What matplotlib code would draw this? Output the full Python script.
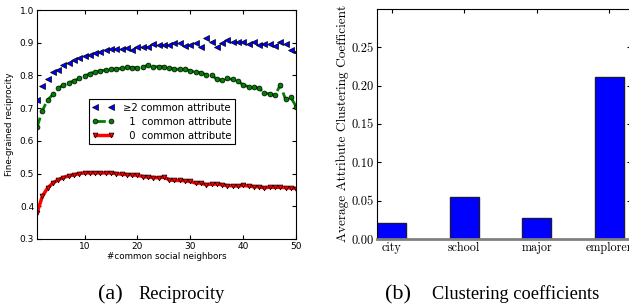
import numpy as np
import matplotlib
matplotlib.use("Agg")
import matplotlib.pyplot as plt

# common social neighbors 1..50
neighbors = list(range(1, 51))

recip_ge2 = [0.725, 0.768, 0.790, 0.810, 0.818, 0.831, 0.839, 0.847, 0.855, 0.860,
             0.862, 0.870, 0.873, 0.878, 0.880, 0.880, 0.880, 0.883, 0.879, 0.888,
             0.888, 0.886, 0.896, 0.893, 0.894, 0.894, 0.898, 0.900, 0.891, 0.893,
             0.900, 0.888, 0.915, 0.903, 0.888, 0.898, 0.910, 0.903, 0.902, 0.901,
             0.896, 0.901, 0.894, 0.896, 0.895, 0.891, 0.903, 0.895, 0.878, 0.873]

recip_1 = [0.641, 0.692, 0.725, 0.742, 0.761, 0.771, 0.778, 0.784, 0.791, 0.798,
           0.806, 0.812, 0.814, 0.817, 0.819, 0.820, 0.822, 0.827, 0.824, 0.824,
           0.825, 0.832, 0.827, 0.827, 0.827, 0.824, 0.819, 0.819, 0.820, 0.814,
           0.810, 0.809, 0.802, 0.802, 0.788, 0.786, 0.791, 0.788, 0.783, 0.771,
           0.766, 0.764, 0.761, 0.746, 0.744, 0.739, 0.771, 0.727, 0.733, 0.705]

recip_0 = [0.379, 0.430, 0.456, 0.471, 0.481, 0.488, 0.493, 0.496, 0.500, 0.502,
           0.502, 0.502, 0.502, 0.502, 0.502, 0.500, 0.498, 0.497, 0.496, 0.495,
           0.491, 0.489, 0.488, 0.487, 0.489, 0.481, 0.479, 0.479, 0.478, 0.476,
           0.471, 0.471, 0.466, 0.468, 0.468, 0.466, 0.463, 0.463, 0.462, 0.464,
           0.462, 0.460, 0.460, 0.456, 0.459, 0.458, 0.458, 0.457, 0.456, 0.454]

attributes = ["city", "school", "major", "emplorer"]
clustering = [0.0205, 0.0546, 0.027, 0.2116]

fig = plt.figure(figsize=(6.29, 3.06), dpi=100)

# (a) reciprocity
ax1 = fig.add_axes([0.0588, 0.219, 0.412, 0.748])
ax1.plot(neighbors, recip_ge2, linestyle="none", marker="<", ms=4,
         mfc="blue", mec="black", mew=0.5, label="\u22652 common attribute")
ax1.plot(neighbors, recip_1, linestyle="--", color="green", lw=2, marker="o", ms=3.5,
         mfc="green", mec="black", mew=0.5, label="  1  common attribute")
ax1.plot(neighbors, recip_0, linestyle="-", color="red", lw=2.5, marker="v", ms=3.5,
         mfc="red", mec="black", mew=0.5, label="  0  common attribute")
ax1.set_xlim(1, 50)
ax1.set_ylim(0.3, 1.0)
ax1.set_xticks([10, 20, 30, 40, 50])
ax1.set_yticks(np.arange(0.3, 1.01, 0.1))
ax1.tick_params(direction="in", top=True, right=True, labelsize=6.5, length=3, pad=2)
ax1.set_xlabel("#common social neighbors", fontsize=6.3, labelpad=1)
ax1.set_ylabel("Fine-grained reciprocity", fontsize=6.3, labelpad=4)
leg = ax1.legend(loc="upper left", bbox_to_anchor=(0.2, 0.611), fontsize=7.2,
                 numpoints=2, handlelength=2.2, fancybox=False, framealpha=1,
                 borderaxespad=0, borderpad=0.35, labelspacing=0.4,
                 handletextpad=0.9)
leg.get_frame().set_edgecolor("black")
leg.get_frame().set_linewidth(0.8)

# (b) clustering coefficients
ax2 = fig.add_axes([0.5994, 0.219, 0.404, 0.752])
pos = np.arange(len(attributes))
ax2.bar(pos, clustering, width=0.4, align="edge", color="blue",
        edgecolor="#1a1a40", linewidth=1)
ax2.set_xlim(0, 3.5)
ax2.set_ylim(0, 0.3)
ax2.set_yticks([0.0, 0.05, 0.10, 0.15, 0.20, 0.25])
ax2.set_yticklabels(["0.00", "0.05", "0.10", "0.15", "0.20", "0.25"],
                    family="cmr10", fontsize=9)
ax2.set_xticks(pos + 0.2)
ax2.set_xticklabels(attributes, family="cmr10", fontsize=8.7)
ax2.tick_params(direction="in", top=True, right=True, length=3, pad=2)
ax2.tick_params(axis="x", bottom=False)
ax2.spines["bottom"].set_color("gray")
ax2.spines["bottom"].set_linewidth(2)
ax2.set_ylabel("Average Attribute Clustering Coefficient", family="cmr10",
               fontsize=9.6, labelpad=2)

# captions
cap_y = 1 - 299 / 306
fig.text(98 / 629, cap_y, "(a)", family="Liberation Serif",
         fontsize=16, ha="left", va="baseline")
fig.text(138 / 629, cap_y, "Reciprocity", family="Liberation Serif",
         fontsize=13.2, ha="left", va="baseline")
fig.text(385 / 629, cap_y, "(b)", family="Liberation Serif",
         fontsize=16, ha="left", va="baseline")
fig.text(432 / 629, cap_y, "Clustering coefficients", family="Liberation Serif",
         fontsize=13.2, ha="left", va="baseline")

fig.savefig("out.png", dpi=100)
